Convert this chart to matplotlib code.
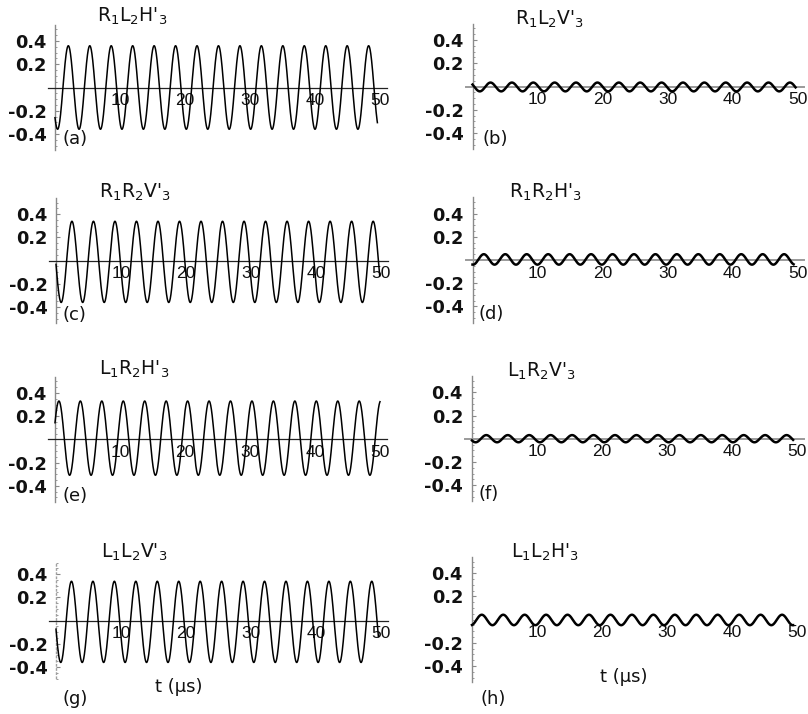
import numpy as np
import matplotlib
matplotlib.use("Agg")
import matplotlib.pyplot as plt
from matplotlib import font_manager
from matplotlib.ticker import FixedLocator

# ---------------- data ----------------
panel_ids = ["a", "b", "c", "d", "e", "f", "g", "h"]
titles = [r"R$_1$L$_2$H'$_3$", r"R$_1$L$_2$V'$_3$",
          r"R$_1$R$_2$V'$_3$", r"R$_1$R$_2$H'$_3$",
          r"L$_1$R$_2$H'$_3$", r"L$_1$R$_2$V'$_3$",
          r"L$_1$L$_2$V'$_3$", r"L$_1$L$_2$H'$_3$"]
amplitude = [0.36, 0.038, 0.35, 0.045, 0.32, 0.031, 0.35, 0.045]
offset = [0.0, -0.004, -0.01, 0.005, 0.01, 0.0, -0.01, -0.004]
period_us = [3.30, 3.29, 3.31, 3.30, 3.30, 3.30, 3.30, 3.30]
first_peak_us = [2.05, 2.77, 2.45, 1.74, 0.60, 2.20, 2.38, 1.50]
t_end_us = [49.6, 49.7, 49.8, 49.4, 50.0, 49.4, 49.6, 49.4]
x_ticks = [10, 20, 30, 40, 50]
x_tick_labels = ["10", "20", "30", "40", "50"]
y_ticks = [-0.4, -0.2, 0.2, 0.4]
y_tick_labels = ["-0.4", "-0.2", "0.2", "0.4"]
x_label = "t (\u03bcs)"

# ---------------- layout (pixels) ----------------
W, H, DPI = 808, 714, 100
PX_US = 6.5
PX_UNIT = 116.0
XLIM = (-2.0, 51.0)
YLIM = (-0.6, 0.6)
origin_x = [55, 472.5, 56, 472.5, 55, 472, 56, 472]
zero_y = [87.5, 86.5, 260.7, 260.0, 439.3, 438.7, 620.7, 619.5]
title_pos = [(97, 22), (515, 25), (99, 198), (509, 198),
             (99, 375), (507, 377), (101, 558), (511, 558)]
label_pos = [(62, 139), (482, 139), (62, 315), (478, 314),
             (62, 496), (478, 494), (62, 699), (480, 699)]
xlabel_pos = {6: (155, 687), 7: (600, 677)}

plt.rcParams["font.family"] = ["DejaVu Sans"]
plt.rcParams["mathtext.fontset"] = "dejavusans"

names = {f.name for f in font_manager.fontManager.ttflist}
if "Liberation Sans Narrow" in names:
    narrow, xsize = "Liberation Sans Narrow", 13.5
else:
    narrow, xsize = "Liberation Sans", 12.5

fig = plt.figure(figsize=(W / DPI, H / DPI), dpi=DPI)
fig.patch.set_facecolor("white")


def fx(px):
    return px / W


def fy(py):
    return 1 - py / H


for i, pid in enumerate(panel_ids):
    right_col = (i % 2 == 1)
    ox, zy = origin_x[i], zero_y[i]
    left = ox + XLIM[0] * PX_US
    width = (XLIM[1] - XLIM[0]) * PX_US
    top = zy - YLIM[1] * PX_UNIT
    height = (YLIM[1] - YLIM[0]) * PX_UNIT
    ax = fig.add_axes([fx(left), fy(top + height), width / W, height / H])
    ax.set_xlim(*XLIM)
    ax.set_ylim(*YLIM)
    ax.patch.set_visible(False)
    for s in ("top", "right"):
        ax.spines[s].set_visible(False)

    # y axis
    ax.spines["left"].set_position(("data", 0))
    ax.spines["left"].set_bounds(-0.54, 0.54)
    ax.spines["left"].set_color("#8a8a8a")
    ax.spines["left"].set_linewidth(1.0)
    if pid == "g":
        ax.spines["left"].set_bounds(-0.49, 0.49)
        ax.spines["left"].set_linestyle((0, (1, 2)))
        ax.spines["left"].set_color("#a0a0a0")

    # x axis (zero line)
    ax.spines["bottom"].set_position(("data", 0))
    ax.spines["bottom"].set_bounds(-1.05, 51.0)
    if right_col:
        ax.spines["bottom"].set_color("#9a9a9a")
        ax.spines["bottom"].set_linewidth(1.4)
    else:
        ax.spines["bottom"].set_color("#222222")
        ax.spines["bottom"].set_linewidth(0.9)
    if pid == "h":
        ax.spines["bottom"].set_visible(False)

    ax.set_xticks(x_ticks, x_tick_labels)
    ax.tick_params(axis="x", length=0, pad=4.0, labelsize=xsize)
    for lbl in ax.get_xticklabels():
        lbl.set_fontfamily([narrow, "DejaVu Sans"])
        lbl.set_color("#111111")

    ax.set_yticks(y_ticks, y_tick_labels)
    ax.yaxis.set_minor_locator(FixedLocator([k * 0.05 for k in range(-10, 11)]))
    ax.tick_params(axis="y", which="major", direction="in", length=3,
                   width=0.8, color="#8a8a8a", pad=6.5 if right_col else 6,
                   labelsize=12.8)
    ax.tick_params(axis="y", which="minor", direction="in", length=1.6,
                   width=0.7, color="#9a9a9a")
    for lbl in ax.get_yticklabels():
        lbl.set_fontweight("bold")
        lbl.set_color("#111111")

    # curve
    t = np.linspace(0, t_end_us[i], 4000)
    y = offset[i] + amplitude[i] * np.cos(2 * np.pi * (t - first_peak_us[i]) / period_us[i])
    ax.plot(t, y, color="black", lw=1.8 if right_col else 1.1, zorder=3,
            clip_on=False, solid_joinstyle="round")

    # texts
    tx, ty = title_pos[i]
    fig.text(fx(tx), fy(ty), titles[i], fontsize=13.5, ha="left",
             va="baseline", color="#111111")
    lx, ly = label_pos[i]
    fig.text(fx(lx), fy(ly), "(" + pid + ")", fontsize=13, ha="left",
             va="center", color="#111111")
    if i in xlabel_pos:
        px_, py_ = xlabel_pos[i]
        fig.text(fx(px_), fy(py_), x_label, fontsize=13, ha="left",
                 va="center", color="#111111")

fig.savefig("out.png", dpi=DPI, facecolor="white")
